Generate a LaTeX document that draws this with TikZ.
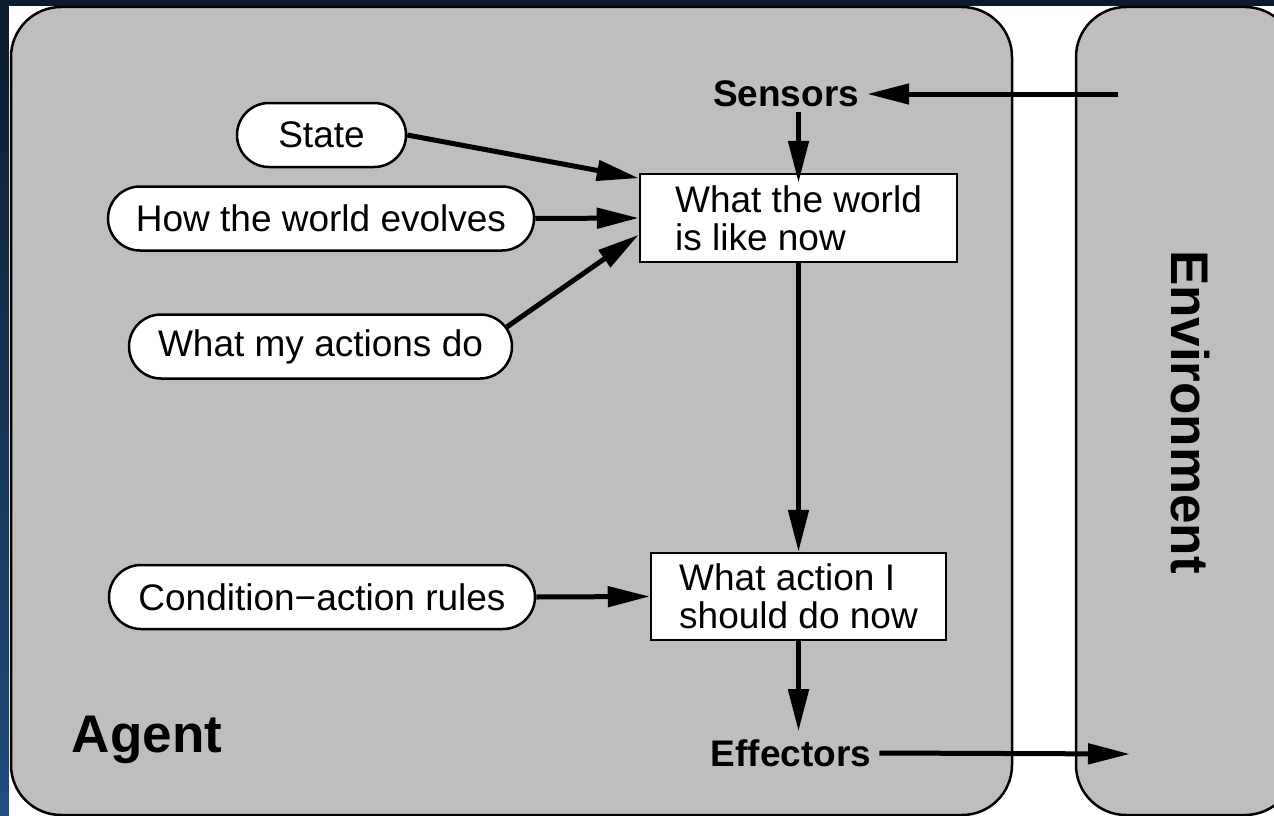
\documentclass[tikz,border=0pt]{standalone}
\usepackage{fontspec}
\setmainfont{Liberation Sans}
\usetikzlibrary{arrows.meta,shapes.misc}
\definecolor{navytop}{HTML}{0B1A2E}
\definecolor{navybot}{HTML}{1F4E80}
\definecolor{agentgray}{HTML}{BEBEBE}
\begin{document}
\begin{tikzpicture}[x=1pt,y=-1pt,
  panel/.style={draw=black, line width=2.5pt, fill=agentgray, rounded corners=50pt},
  oval/.style={rounded rectangle, draw=black, line width=2.5pt, fill=white,
    minimum height=64pt, inner sep=0pt, font=\fontsize{37}{38}\selectfont},
  sqbox/.style={rectangle, draw=black, line width=2.5pt, fill=white, align=left,
    inner sep=0pt, font=\fontsize{37}{38}\selectfont},
  lbl/.style={inner sep=8pt, font=\bfseries\fontsize{37}{38}\selectfont},
  big/.style={inner sep=0pt, font=\bfseries\fontsize{53}{54}\selectfont},
  arr/.style={line width=5pt, -{Triangle[length=42pt,width=20pt]}}]
\clip (0,0) rectangle (1274,816);
% background
\fill[navytop] (0,0) rectangle (1274,816);
\shade[top color=navytop, bottom color=navybot] (0,0) rectangle (9,816);
\fill[white] (9,6) rectangle (1274,816);
% agent and environment panels
\draw[panel] (11,7) rectangle (1012,815);
\draw[panel] (1076,7) rectangle (1295,815);
% labels
\node[big] (agent) at (147,740) {Agent};
\node[big, rotate=-90] (envlabel) at (1190,412) {Environment};
% ovals
\node[oval, minimum width=169pt] (state) at (321.5,135) {State};
\node[oval, minimum width=426pt] (evolves) at (321,218.5) {How the world evolves};
\node[oval, minimum width=383pt] (actions) at (320.5,346.5) {What my actions do};
\node[oval, minimum width=426pt] (cond) at (322,597) {Condition−action rules};
% boxes
\node[sqbox, minimum width=317pt, minimum height=88pt] (world) at (798.5,218) {What the world\\is like now};
\node[sqbox, minimum width=295pt, minimum height=87pt] (action) at (798.5,596.5) {What action I\\should do now};
% sensor / effector labels
\node[lbl] (sensors) at (786,94) {Sensors};
\node[lbl] (effectors) at (791,753) {Effectors};
\coordinate (envin) at (1118,94);
\coordinate (envout) at (1130,754);
% connectors
\draw[arr] ([yshift=3pt]sensors.south -| world.north) -- ([yshift=-10pt]world.north);
\draw[arr] (envin) -- (sensors.east);
\draw[arr] (state.east) -- (world.166.5);
\draw[arr] (evolves.east) -- (world.west);
\draw[arr] (actions.6) -- (world.186);
\draw[arr] (world.south) -- (action.north);
\draw[arr] (cond.east) -- (action.west);
\draw[arr] (action.south) -- (action.south |- effectors.north);
\draw[arr] (effectors.east) -- (envout);
\end{tikzpicture}
\end{document}
